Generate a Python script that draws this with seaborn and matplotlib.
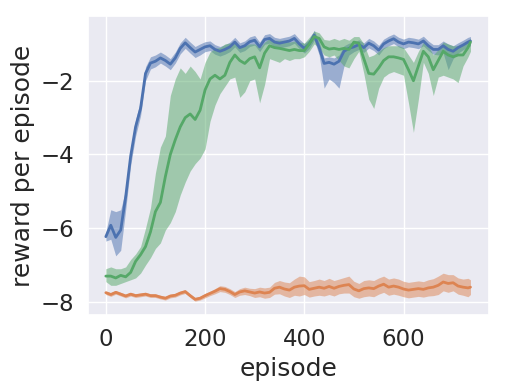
import numpy as np
import pandas as pd
import matplotlib
matplotlib.use("Agg")
import matplotlib.pyplot as plt
import seaborn as sns

episodes = [0, 10, 20, 30, 40, 50, 60, 70, 80, 90,
            100, 110, 120, 130, 140, 150, 160, 170, 180, 190,
            200, 210, 220, 230, 240, 250, 260, 270, 280, 290,
            300, 310, 320, 330, 340, 350, 360, 370, 380, 390,
            400, 410, 420, 430, 440, 450, 460, 470, 480, 490,
            500, 510, 520, 530, 540, 550, 560, 570, 580, 590,
            600, 610, 620, 630, 640, 650, 660, 670, 680, 690,
            700, 710, 720, 730, 735]

blue_mean = [-6.23, -5.92, -6.25, -6.05, -5.15, -4.05, -3.25, -2.75, -1.8, -1.52,
             -1.47, -1.38, -1.45, -1.55, -1.38, -1.12, -0.97, -1.1, -1.22, -1.15,
             -1.08, -1.05, -1.15, -1.2, -1.15, -1.08, -0.95, -1.1, -1.05, -0.94,
             -0.9, -1.08, -0.88, -0.85, -0.95, -0.98, -0.95, -0.92, -0.85, -1.0,
             -1.12, -1.0, -0.76, -1.1, -1.53, -1.5, -1.55, -1.47, -1.2, -1.12,
             -1.08, -1.02, -1.1, -0.98, -1.05, -1.17, -1.0, -0.92, -0.86, -0.95,
             -1.0, -0.95, -0.97, -1.0, -0.92, -1.05, -1.15, -1.15, -1.05, -1.15,
             -1.2, -1.1, -1.03, -0.95, -0.92]
blue_hi = [-6.1, -5.5, -5.55, -5.5, -4.95, -3.85, -3.05, -2.55, -1.62, -1.35,
           -1.3, -1.22, -1.3, -1.4, -1.22, -0.97, -0.82, -0.95, -1.07, -1.0,
           -0.94, -0.92, -1.02, -1.07, -1.02, -0.95, -0.82, -0.97, -0.92, -0.81,
           -0.77, -0.95, -0.75, -0.72, -0.82, -0.85, -0.82, -0.79, -0.72, -0.87,
           -0.99, -0.87, -0.63, -0.95, -1.38, -1.35, -1.38, -1.3, -1.05, -0.98,
           -0.95, -0.89, -0.97, -0.85, -0.92, -1.04, -0.87, -0.79, -0.73, -0.82,
           -0.87, -0.82, -0.84, -0.87, -0.79, -0.92, -1.02, -1.02, -0.92, -1.0,
           -1.05, -0.97, -0.9, -0.82, -0.8]
blue_lo = [-6.35, -6.3, -6.75, -6.6, -5.5, -4.3, -3.5, -2.95, -2.0, -1.68,
           -1.62, -1.52, -1.6, -1.7, -1.52, -1.27, -1.12, -1.25, -1.37, -1.3,
           -1.21, -1.18, -1.28, -1.33, -1.28, -1.21, -1.08, -1.23, -1.18, -1.07,
           -1.03, -1.21, -1.01, -0.98, -1.08, -1.11, -1.08, -1.05, -0.98, -1.13,
           -1.25, -1.13, -0.9, -1.3, -2.2, -1.95, -2.05, -2.2, -1.6, -1.3,
           -1.21, -1.15, -1.23, -1.11, -1.18, -1.3, -1.13, -1.05, -0.99, -1.08,
           -1.13, -1.08, -1.1, -1.13, -1.05, -1.18, -1.28, -1.3, -1.25, -1.7,
           -1.4, -1.25, -1.16, -1.08, -1.05]

orange_mean = [-7.75, -7.8, -7.74, -7.79, -7.84, -7.79, -7.83, -7.81, -7.79, -7.83,
               -7.83, -7.87, -7.9, -7.84, -7.82, -7.76, -7.72, -7.83, -7.93, -7.9,
               -7.83, -7.77, -7.71, -7.64, -7.66, -7.72, -7.8, -7.73, -7.7, -7.73,
               -7.76, -7.73, -7.76, -7.74, -7.63, -7.6, -7.65, -7.68, -7.6, -7.57,
               -7.56, -7.66, -7.63, -7.6, -7.63, -7.58, -7.63, -7.58, -7.55, -7.53,
               -7.65, -7.7, -7.64, -7.62, -7.64, -7.57, -7.52, -7.6, -7.57, -7.6,
               -7.65, -7.68, -7.66, -7.64, -7.66, -7.62, -7.6, -7.55, -7.46, -7.5,
               -7.48, -7.57, -7.6, -7.62, -7.6]
orange_hi = [-7.7, -7.75, -7.69, -7.74, -7.79, -7.74, -7.78, -7.76, -7.74, -7.78,
             -7.78, -7.82, -7.85, -7.79, -7.77, -7.71, -7.67, -7.78, -7.88, -7.85,
             -7.77, -7.71, -7.64, -7.56, -7.58, -7.64, -7.72, -7.64, -7.6, -7.63,
             -7.64, -7.6, -7.62, -7.6, -7.47, -7.42, -7.46, -7.48, -7.38, -7.3,
             -7.32, -7.45, -7.42, -7.38, -7.42, -7.36, -7.42, -7.38, -7.34, -7.3,
             -7.44, -7.5, -7.42, -7.4, -7.42, -7.35, -7.3, -7.38, -7.35, -7.38,
             -7.44, -7.47, -7.45, -7.43, -7.45, -7.4, -7.37, -7.3, -7.22, -7.26,
             -7.26, -7.35, -7.38, -7.36, -7.4]
orange_lo = [-7.8, -7.85, -7.79, -7.84, -7.89, -7.84, -7.88, -7.86, -7.84, -7.88,
             -7.88, -7.92, -7.95, -7.89, -7.87, -7.81, -7.77, -7.88, -7.98, -7.95,
             -7.89, -7.83, -7.78, -7.72, -7.74, -7.8, -7.88, -7.82, -7.8, -7.83,
             -7.88, -7.86, -7.9, -7.88, -7.79, -7.78, -7.84, -7.88, -7.82, -7.84,
             -7.8, -7.87, -7.84, -7.82, -7.84, -7.8, -7.84, -7.78, -7.76, -7.76,
             -7.86, -7.9, -7.86, -7.84, -7.86, -7.79, -7.74, -7.82, -7.79, -7.82,
             -7.86, -7.89, -7.87, -7.85, -7.87, -7.84, -7.83, -7.8, -7.7, -7.74,
             -7.7, -7.79, -7.82, -7.86, -7.8]

green_mean = [-7.3, -7.3, -7.35, -7.28, -7.32, -7.2, -6.9, -6.72, -6.5, -6.1,
              -5.55, -5.3, -4.6, -4.0, -3.6, -3.25, -3.0, -2.9, -3.05, -2.8,
              -2.25, -1.95, -1.85, -1.95, -1.85, -1.5, -1.3, -1.45, -1.53, -1.4,
              -1.35, -1.65, -1.25, -1.05, -1.1, -1.12, -1.15, -1.18, -1.15, -1.18,
              -1.18, -1.0, -0.8, -0.85, -1.08, -1.14, -1.12, -1.15, -1.12, -1.15,
              -0.95, -0.98, -1.4, -1.8, -1.82, -1.65, -1.45, -1.35, -1.35, -1.38,
              -1.42, -1.7, -2.0, -1.6, -1.2, -1.35, -1.7, -1.45, -1.2, -1.3,
              -1.35, -1.3, -1.3, -1.1, -0.95]
green_hi = [-7.1, -7.05, -7.1, -7.1, -7.05, -6.85, -6.7, -6.5, -6.0, -5.45,
            -4.5, -3.8, -3.5, -2.4, -1.95, -1.65, -1.8, -1.6, -1.75, -1.95,
            -1.5, -1.22, -1.12, -1.1, -1.0, -0.98, -0.95, -1.05, -1.05, -1.0,
            -1.0, -1.1, -0.95, -0.85, -0.9, -0.9, -0.9, -0.95, -0.92, -0.95,
            -0.98, -0.82, -0.65, -0.7, -0.88, -0.9, -0.85, -0.9, -0.85, -0.9,
            -0.8, -0.8, -1.0, -1.35, -1.3, -1.2, -1.1, -1.05, -1.05, -1.05,
            -1.1, -1.3, -1.5, -1.2, -0.95, -1.05, -1.3, -1.15, -0.95, -1.0,
            -1.05, -1.05, -1.0, -0.9, -0.85]
green_lo = [-7.45, -7.55, -7.55, -7.5, -7.45, -7.4, -7.35, -7.22, -7.0, -6.8,
            -6.55, -6.4, -6.05, -5.85, -5.55, -5.1, -4.75, -4.45, -4.25, -4.1,
            -3.85, -3.1, -2.66, -2.35, -2.15, -1.95, -1.9, -2.45, -2.3, -2.0,
            -1.95, -2.6, -2.1, -1.4, -1.45, -1.5, -1.4, -1.45, -1.4, -1.4,
            -1.35, -1.2, -1.0, -1.1, -1.3, -1.35, -1.3, -1.45, -1.6, -1.65,
            -1.4, -1.2, -1.8, -2.5, -2.75, -2.2, -1.9, -1.8, -1.75, -1.8,
            -1.85, -2.6, -3.4, -2.5, -1.5, -1.8, -2.4, -1.9, -1.85, -1.9,
            -1.95, -2.05, -1.6, -1.35, -1.2]

xticks = [0, 200, 400, 600]
yticks = [-8, -6, -4, -2]

sns.set_theme(style="darkgrid", font_scale=1.5)
palette = sns.color_palette("deep")
colors = {"blue": palette[0], "orange": palette[1], "green": palette[2]}

series = {
    "blue": (blue_mean, blue_lo, blue_hi),
    "orange": (orange_mean, orange_lo, orange_hi),
    "green": (green_mean, green_lo, green_hi),
}

frames = []
for name, (m, lo, hi) in series.items():
    frames.append(pd.DataFrame({"episode": episodes, "reward": m, "lo": lo,
                                "hi": hi, "method": name}))
df = pd.concat(frames, ignore_index=True)

fig = plt.figure(figsize=(5.05, 3.92), dpi=100)
ax = fig.add_axes([0.1737, 0.196, 0.968 - 0.1737, 0.958 - 0.196])

for name in series:
    sub = df[df["method"] == name]
    ax.fill_between(sub["episode"], sub["lo"], sub["hi"], color=colors[name],
                    alpha=0.5, linewidth=0)
sns.lineplot(data=df, x="episode", y="reward", hue="method",
             palette=colors, legend=False, ax=ax, linewidth=2)

ax.set_xlim(-36.5, 772)
ax.set_ylim(-8.36, -0.255)
ax.set_xticks(xticks)
ax.set_yticks(yticks)
ax.set_xlabel("episode")
ax.set_ylabel("reward per episode")

fig.savefig("out.png", dpi=100)
